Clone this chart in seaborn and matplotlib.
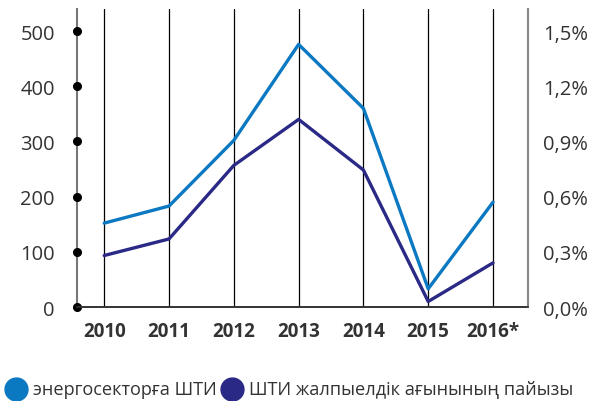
import seaborn as sns
import matplotlib.pyplot as plt
import pandas as pd
from matplotlib.lines import Line2D

years = ["2010", "2011", "2012", "2013", "2014", "2015", "2016*"]
fdi_energy = [152, 183, 302, 476, 360, 33, 190]
fdi_share = [0.28, 0.37, 0.77, 1.02, 0.745, 0.03, 0.24]
left_ticks = [0, 100, 200, 300, 400, 500]
right_ticks = [0.0, 0.3, 0.6, 0.9, 1.2, 1.5]
legend_labels = ["энергосекторға ШТИ", "ШТИ жалпыелдік ағынының пайызы"]

light = "#0b78c2"
dark = "#2b2986"
txt = "#333333"

df = pd.DataFrame({"year": years, "pos": range(len(years)),
                   "energy": fdi_energy, "share": fdi_share})

sns.set_theme(style="white")
plt.rcParams['font.family'] = ['Open Sans', 'DejaVu Sans']

W, H = 591, 402
fig = plt.figure(figsize=(W / 100, H / 100), dpi=100)
ax = fig.add_axes([0.1303, 0.2338, 0.7631, 0.7412])
ax2 = ax.twinx()

sns.lineplot(data=df, x="pos", y="energy", ax=ax, color=light, lw=2.4)
sns.lineplot(data=df, x="pos", y="share", ax=ax2, color=dark, lw=2.4)

ax.set_xlim(-0.42, 6.54)
ax.set_ylim(0, 540)
ax2.set_ylim(0, 1.62)

for i in range(len(years)):
    ax.axvline(i, color="black", lw=0.9, zorder=0)

ax.set_xticks(range(len(years)))
ax.set_xticklabels(years, fontsize=13.5, fontweight="bold", color=txt)
ax.set_yticks(left_ticks)
ax.set_yticklabels([str(v) for v in left_ticks], fontsize=14.5, color=txt)
ax2.set_yticks(right_ticks)
ax2.set_yticklabels([f"{v:.1f}%".replace(".", ",") for v in right_ticks],
                    fontsize=14.5, color=txt)

ax.tick_params(axis="x", length=0, pad=10)
ax.tick_params(axis="y", length=0, pad=16)
ax2.tick_params(axis="y", length=0, pad=11)
ax.set_xlabel("")
ax.set_ylabel("")
ax2.set_ylabel("")

# dots on the left axis
ax.plot([-0.42] * len(left_ticks), left_ticks, "o", color="black", ms=5.5,
        clip_on=False, zorder=5)

for a in (ax, ax2):
    a.spines["top"].set_visible(False)
    a.spines["left"].set_color("#777777")
    a.spines["right"].set_color("#888888")
    a.spines["bottom"].set_color("#333333")
    a.spines["left"].set_linewidth(1.5)
    a.spines["right"].set_linewidth(1.5)
    a.spines["bottom"].set_linewidth(1.2)
ax2.spines["left"].set_visible(False)
ax.spines["right"].set_visible(False)

# legend drawn by hand at the bottom
for cx, col, lab in zip([16, 232], [light, dark], legend_labels):
    fig.add_artist(Line2D([cx / W], [1 - 390 / H], marker="o", ls="",
                          color=col, ms=16.5, transform=fig.transFigure))
    fig.text((cx + 17) / W, 1 - 390 / H, lab, fontsize=13.1, color=txt,
             va="center", ha="left")

fig.savefig("out.png", dpi=100)
